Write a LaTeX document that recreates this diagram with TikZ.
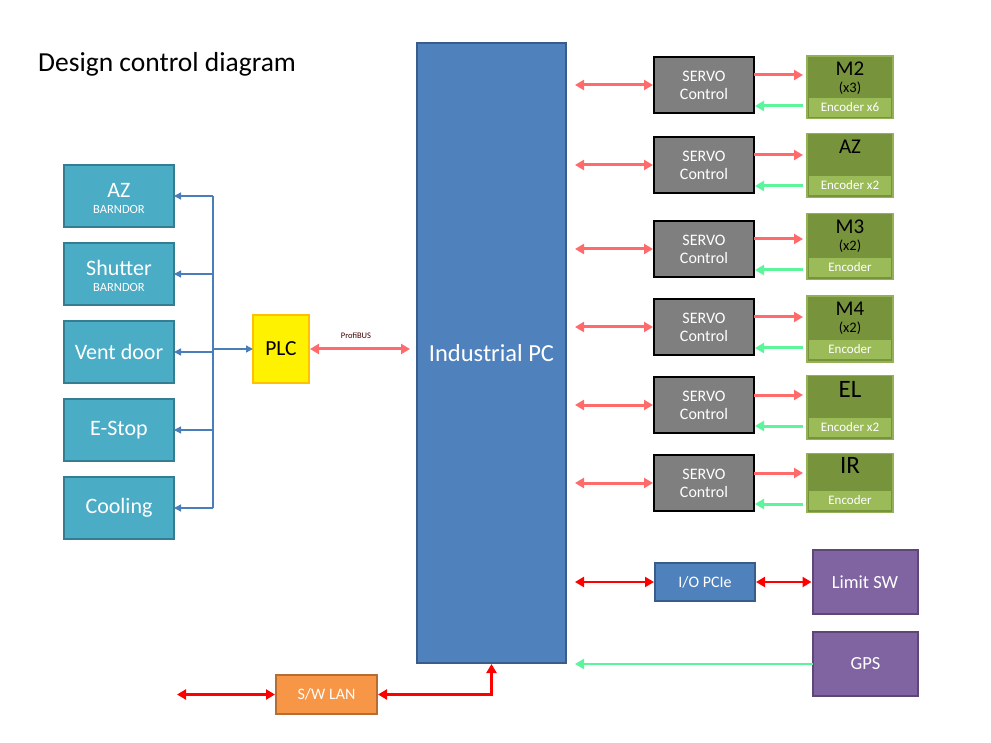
\documentclass[tikz,border=0pt]{standalone}
\usepackage{fontspec}
\setmainfont{Carlito}
\usetikzlibrary{arrows.meta}
\definecolor{pcblue}{HTML}{4F81BD}
\definecolor{pcedge}{HTML}{385D8A}
\definecolor{cyanbox}{HTML}{4BACC6}
\definecolor{cyanedge}{HTML}{357D91}
\definecolor{linkpink}{HTML}{FF6B6B}
\definecolor{linkgreen}{HTML}{5CF59C}
\definecolor{linkred}{HTML}{FF0000}
\definecolor{busblue}{HTML}{4A7EBB}
\definecolor{motorgreen}{HTML}{77933C}
\definecolor{motoredge}{HTML}{94B255}
\definecolor{encgreen}{HTML}{9BBB59}
\definecolor{purp}{HTML}{8064A2}
\definecolor{purpedge}{HTML}{5C4776}
\definecolor{orangebox}{HTML}{F79646}
\definecolor{orangeedge}{HTML}{B66D31}
\definecolor{plcedge}{HTML}{FFC000}
\definecolor{servogray}{HTML}{7F7F7F}
\newcommand\fsz[2]{\fontsize{#1}{#2}\selectfont}
\tikzset{
  box/.style={draw, line width=2pt, outer sep=0pt, inner sep=0pt, align=center, text=white},
  leftbox/.style={box, fill=cyanbox, draw=cyanedge, line width=2.5pt, minimum width=110pt, minimum height=62pt, font=\fsz{22}{24}},
  servobox/.style={box, fill=servogray, draw=black, line width=2.4pt, minimum width=100pt, minimum height=56pt, font=\fsz{16}{18}},
  motorbox/.style={box, fill=motorgreen, draw=motoredge, line width=1.2pt, minimum width=86pt},
  encbox/.style={box, fill=encgreen, draw=motorgreen, line width=0.8pt, minimum width=83pt, minimum height=20pt, font=\fsz{13}{14}},
  purpbox/.style={box, fill=purp, draw=purpedge, minimum width=105pt, minimum height=64pt, font=\fsz{18.5}{20}},
  lbl/.style={inner sep=0pt, align=center},
  pkd/.style={draw=linkpink, line width=3pt, {Triangle[length=9pt,width=10pt]}-{Triangle[length=9pt,width=10pt]}},
  pk/.style={draw=linkpink, line width=3pt, -{Triangle[length=9pt,width=10pt]}},
  gr/.style={draw=linkgreen, line width=3pt, -{Triangle[length=9pt,width=10pt]}},
  rdd/.style={draw=linkred, line width=2.6pt, {Triangle[length=9pt,width=10pt]}-{Triangle[length=9pt,width=10pt]}},
  bl/.style={draw=busblue, line width=1.3pt},
  bla/.style={bl, -{Triangle[length=7pt,width=7pt]}},
}
\begin{document}
\begin{tikzpicture}[x=1pt,y=-1pt]
\useasboundingbox[fill=white] (0,0) rectangle (991,743);

\node[lbl, anchor=west, font=\fsz{27.5}{30}] (title) at (38,64) {Design control diagram};

% Industrial PC
\node[box, fill=pcblue, draw=pcedge, minimum width=149pt, minimum height=620pt, font=\fsz{24.5}{28}] (pc) at (491.5,353) {Industrial PC};

% left boxes
\node[leftbox] (az) at (119,196) {};
\node[lbl, text=white, font=\fsz{22}{24}] (azT) at (119,190) {AZ};
\node[lbl, text=white, font=\fsz{12.5}{13}] (azB) at (119,209) {BARNDOR};
\node[leftbox] (shut) at (119,274) {};
\node[lbl, text=white, font=\fsz{22}{24}] (shutT) at (119,268) {Shutter};
\node[lbl, text=white, font=\fsz{12.5}{13}] (shutB) at (119,287) {BARNDOR};
\node[leftbox] (vent) at (119,352) {Vent door};
\node[leftbox] (estop) at (119,430) {E-Stop};
\node[leftbox] (cool) at (119,508) {Cooling};

% PLC
\node[box, fill=yellow, draw=plcedge, text=black, minimum width=56pt, minimum height=68pt, font=\fsz{21.5}{24}] (plc) at (281,349) {PLC};

% bus
\coordinate (busT) at (213,196);
\coordinate (busB) at (213,508);
\draw[bl] (busT) -- (busB);
\draw[bla] (busT) -- (az.east);
\draw[bla] (busT |- shut.east) -- (shut.east);
\draw[bla] (busT |- vent.east) -- (vent.east);
\draw[bla] (busT |- estop.east) -- (estop.east);
\draw[bla] (busB) -- (cool.east);
\draw[bla] (busT |- plc.west) -- (plc.west);

% ProfiBUS
\draw[pkd, shorten <=1pt, shorten >=7pt] (plc.east) -- (pc.west |- plc.east);
\node[lbl, font=\fsz{8.5}{9}, text=black!75!red] (profi) at (356,336) {ProfiBUS};

% servo controllers
\foreach \n/\y in {1/85,2/165,3/249,4/327,5/405,6/483}{
  \node[servobox] (s\n) at (704,\y) {SERVO\\Control};
  \draw[pkd, shorten <=9pt, shorten >=1pt] (pc.east |- s\n.west) -- (s\n.west);
}

% motors
\node[motorbox, minimum height=62pt] (m1) at (850,87) {};
\node[encbox] (e1) at (850,107) {Encoder x6};
\node[lbl, font=\fsz{21}{23}] (m1T) at (850,69) {M2};
\node[lbl, font=\fsz{14.5}{16}] (m1S) at (850,88) {(x3)};

\node[motorbox, minimum height=64pt] (m2) at (850,165.5) {};
\node[encbox] (e2) at (850,185.5) {Encoder x2};
\node[lbl, font=\fsz{21}{23}] (m2T) at (850,147) {AZ};

\node[motorbox, minimum height=66pt] (m3) at (850,246.5) {};
\node[encbox] (e3) at (850,267.5) {Encoder};
\node[lbl, font=\fsz{21}{23}] (m3T) at (850,227) {M3};
\node[lbl, font=\fsz{14.5}{16}] (m3S) at (850,246) {(x2)};

\node[motorbox, minimum height=66pt] (m4) at (850,329) {};
\node[encbox] (e4) at (850,349) {Encoder};
\node[lbl, font=\fsz{21}{23}] (m4T) at (850,309) {M4};
\node[lbl, font=\fsz{14.5}{16}] (m4S) at (850,328) {(x2)};

\node[motorbox, minimum height=64pt] (m5) at (850,407.5) {};
\node[encbox] (e5) at (850,427.5) {Encoder x2};
\node[lbl, font=\fsz{25}{27}] (m5T) at (850,389) {EL};

\node[motorbox, minimum height=59pt] (m6) at (850,483) {};
\node[encbox] (e6) at (850,500) {Encoder};
\node[lbl, font=\fsz{25}{27}] (m6T) at (850,465) {IR};

\foreach \n in {1,...,6}{
  \coordinate (r\n) at ([yshift=10pt]s\n.east);
  \coordinate (g\n) at ([yshift=-21pt]s\n.east);
  \draw[pk, shorten >=4pt] (r\n) -- (m\n.west |- r\n);
  \draw[gr, shorten <=4pt, shorten >=1pt] (m\n.west |- g\n) -- (g\n);
}

% I/O
\node[box, fill=pcblue, draw=pcedge, minimum width=100pt, minimum height=38pt, font=\fsz{16}{18}] (io) at (705,582) {I/O PCIe};
\node[purpbox] (lim) at (865,582) {Limit SW};
\node[purpbox] (gps) at (865.5,664) {GPS};
\draw[rdd, shorten <=9pt, shorten >=1pt] (pc.east |- io.west) -- (io.west);
\draw[rdd, shorten <=1pt, shorten >=1pt] (io.east) -- (lim.west);
\draw[gr, line width=2.6pt, shorten >=9pt] (gps.west) -- (pc.east |- gps.west);

% LAN
\node[box, fill=orangebox, draw=orangeedge, minimum width=101pt, minimum height=39pt, font=\fsz{16}{18}] (lan) at (326.5,694.5) {S/W LAN};
\coordinate (lanL) at (177,694.5);
\draw[rdd, shorten >=1pt] (lanL) -- (lan.west);
\draw[rdd, shorten <=1pt, shorten >=1pt] (lan.east) -| (pc.south);
\end{tikzpicture}
\end{document}
